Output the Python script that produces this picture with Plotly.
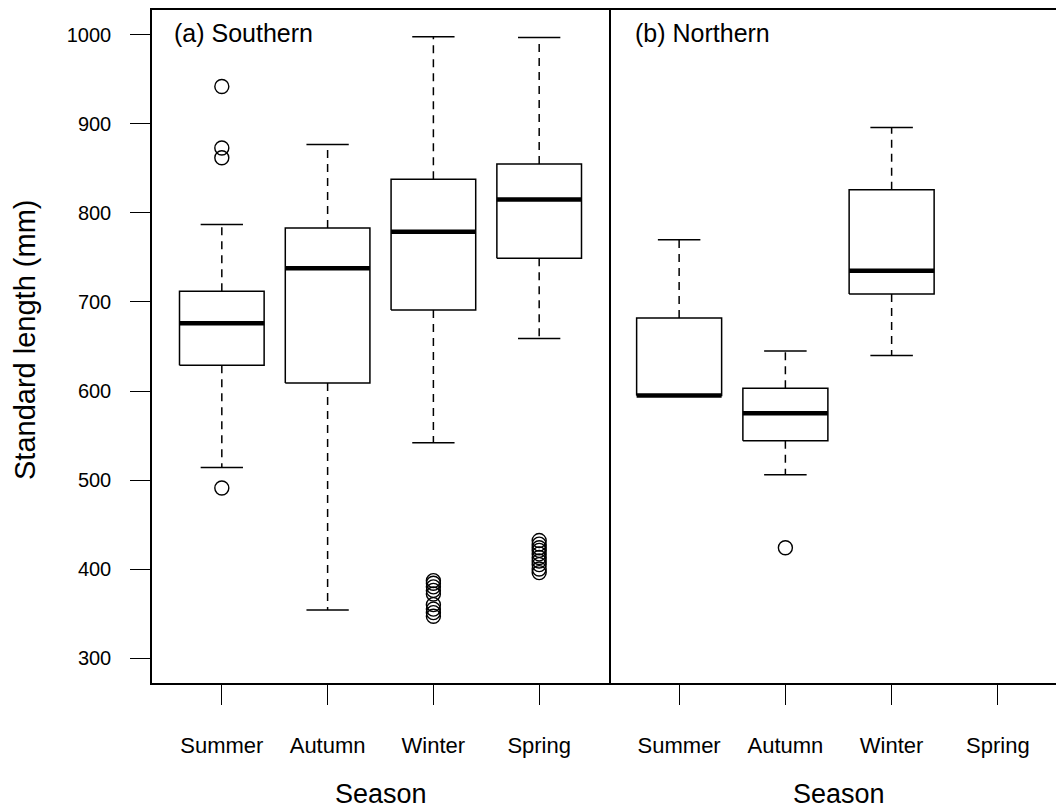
import plotly.graph_objects as go

# ---- data ----
seasons = ["Summer", "Autumn", "Winter", "Spring"]

# (a) Southern
s_low = [514, 354, 542, 659]
s_q1 = [629, 609, 691, 749]
s_med = [676, 738, 779, 815]
s_q3 = [712, 783, 838, 855]
s_high = [787, 877, 998, 997]
s_out_x = ["Summer", "Summer", "Summer", "Summer",
           "Winter", "Winter", "Winter", "Winter", "Winter", "Winter", "Winter", "Winter", "Winter",
           "Spring", "Spring", "Spring", "Spring", "Spring", "Spring", "Spring", "Spring", "Spring", "Spring"]
s_out_y = [942, 873, 862, 491,
           387, 384, 380, 376, 372, 360, 355, 351, 347,
           432, 428, 424, 421, 417, 413, 409, 405, 400, 396]

# (b) Northern (no Spring data)
n_low = [595, 506, 640]
n_q1 = [595, 544, 709]
n_med = [595, 575, 735]
n_q3 = [682, 603, 826]
n_high = [770, 645, 896]
n_out_x = ["Autumn"]
n_out_y = [424]

panel_titles = ["(a) Southern", "(b) Northern"]
y_ticks = [300, 400, 500, 600, 700, 800, 900, 1000]

FONT = "Liberation Sans, Arial, sans-serif"
BOXW = 0.4
CAPW = 0.2
LW = 1.5

fig = go.Figure()


def add_panel(low, q1, med, q3, high, out_x, out_y, xa, ya):
    pos = {s: i + 1 for i, s in enumerate(seasons)}
    n = len(med)
    wx, wy, bx, by, mx, my, cx, cy = [], [], [], [], [], [], [], []
    for i in range(n):
        p = i + 1
        wx += [p, p, None, p, p, None]
        wy += [q3[i], high[i], None, q1[i], low[i], None]
        bx += [p - BOXW, p + BOXW, p + BOXW, p - BOXW, p - BOXW, None]
        by += [q1[i], q1[i], q3[i], q3[i], q1[i], None]
        mx += [p - BOXW, p + BOXW, None]
        my += [med[i], med[i], None]
        cx += [p - CAPW, p + CAPW, None, p - CAPW, p + CAPW, None]
        cy += [high[i], high[i], None, low[i], low[i], None]
    common = dict(xaxis=xa, yaxis=ya, showlegend=False, hoverinfo="skip", mode="lines")
    fig.add_trace(go.Scatter(x=wx, y=wy, line=dict(color="black", width=LW, dash="8px,6px"), **common))
    fig.add_trace(go.Scatter(x=cx, y=cy, line=dict(color="black", width=LW), **common))
    fig.add_trace(go.Scatter(x=bx, y=by, line=dict(color="black", width=LW), **common))
    fig.add_trace(go.Scatter(x=mx, y=my, line=dict(color="black", width=4.5), **common))
    fig.add_trace(go.Scatter(
        x=[pos[s] for s in out_x], y=out_y, mode="markers", xaxis=xa, yaxis=ya,
        showlegend=False, hoverinfo="skip",
        marker=dict(symbol="circle-open", size=14, color="black", line=dict(width=1.4))))


add_panel(s_low, s_q1, s_med, s_q3, s_high, s_out_x, s_out_y, "x", "y")
add_panel(n_low, n_q1, n_med, n_q3, n_high, n_out_x, n_out_y, "x2", "y2")

W, H = 1056, 810
ML, MR, MT, MB = 152, 0, 10, 127
split = 457 / (W - ML - MR)

xcommon = dict(
    tickmode="array", tickvals=[1, 2, 3, 4], ticktext=seasons,
    ticks="outside", ticklen=20, tickwidth=1.3, tickcolor="black",
    showline=True, linecolor="black", linewidth=1.5, mirror=True,
    showgrid=False, zeroline=False,
    tickfont=dict(family=FONT, size=22, color="black"),
    ticklabelstandoff=22,
)

fig.update_layout(
    width=W, height=H,
    margin=dict(l=ML, r=MR, t=MT, b=MB),
    paper_bgcolor="white", plot_bgcolor="white",
    xaxis=dict(domain=[0, split], range=[0.34, 4.66], **xcommon),
    xaxis2=dict(domain=[split, 1], range=[0.34, 4.547], anchor="y2", **xcommon),
    yaxis=dict(
        range=[272, 1028], tickmode="array", tickvals=y_ticks,
        ticks="outside", ticklen=20, tickwidth=1.3, tickcolor="black",
        showline=True, linecolor="black", linewidth=1.5, mirror=True,
        showgrid=False, zeroline=False,
        tickfont=dict(family=FONT, size=20, color="black"),
        ticklabelstandoff=15,
    ),
    yaxis2=dict(
        range=[272, 1028], anchor="x2", matches="y",
        showticklabels=False, ticks="", showline=False,
        showgrid=False, zeroline=False,
    ),
    font=dict(family=FONT, color="black"),
)

annotations = [
    dict(text=panel_titles[0], xref="x domain", yref="y domain", x=0.044, y=0.966,
         xanchor="left", yanchor="middle", showarrow=False,
         font=dict(family=FONT, size=25, color="black")),
    dict(text=panel_titles[1], xref="x2 domain", yref="y2 domain", x=0.054, y=0.966,
         xanchor="left", yanchor="middle", showarrow=False,
         font=dict(family=FONT, size=25, color="black")),
    dict(text="Season", xref="x domain", yref="paper", x=0.5, y=(683 - 794) / 673,
         xanchor="center", yanchor="middle", showarrow=False,
         font=dict(family=FONT, size=27, color="black")),
    dict(text="Season", xref="x2 domain", yref="paper", x=(839 - 609) / 447, y=(683 - 794) / 673,
         xanchor="center", yanchor="middle", showarrow=False,
         font=dict(family=FONT, size=27, color="black")),
    dict(text="Standard length (mm)", xref="paper", yref="paper",
         x=(25 - ML) / (W - ML - MR), y=(683 - 340) / 673, textangle=-90,
         xanchor="center", yanchor="middle", showarrow=False,
         font=dict(family=FONT, size=29, color="black")),
]
fig.update_layout(annotations=annotations)

fig.write_html(
    "out.html",
    config={"displayModeBar": False},
    post_script="document.body.style.margin='0';document.body.style.overflow='hidden';",
)
